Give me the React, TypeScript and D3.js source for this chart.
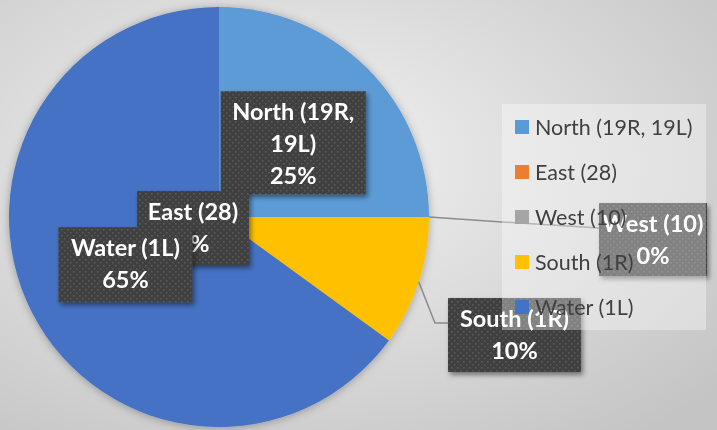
import React from "react";
import * as d3 from "d3";

const categories = ["North (19R, 19L)", "East (28)", "West (10)", "South (1R)", "Water (1L)"];
const values = [25, 0, 0, 10, 65];
const labelLines = [["North (19R,", "19L)", "25%"], ["East (28)", "0%"], ["West (10)", "0%"], ["South (1R)", "10%"], ["Water (1L)", "65%"]];
const colors = ["#5B9BD5", "#ED7D31", "#A5A5A5", "#FFC000", "#4472C4"];

const W = 717, H = 430;
const CX = 219, CY = 217, R = 210;

// label box layout (center positions, sizes)
const labelLayout = [
  { mode: "centroid", w: 145, h: 103 },
  { mode: "fixed", cx: 193, cy: 228, w: 112, h: 74 },
  { mode: "fixed", cx: 653, cy: 239.5, w: 108, h: 73 },
  { mode: "fixed", cx: 514.5, cy: 335, w: 133, h: 74 },
  { mode: "centroid", w: 134, h: 75 },
];

export default function App() {
  const pie = d3.pie<number>().value((d) => d).sort(null);
  const arcs = pie(values);
  const arcGen = d3.arc<d3.PieArcDatum<number>>().innerRadius(0).outerRadius(R);
  const labelArc = d3.arc<d3.PieArcDatum<number>>().innerRadius(210).outerRadius(0);

  const boxes = arcs.map((a, i) => {
    const L = labelLayout[i];
    let cx: number, cy: number;
    if (L.mode === "centroid") {
      const [x, y] = labelArc.centroid(a);
      cx = CX + x;
      cy = CY + y;
    } else {
      cx = L.cx as number;
      cy = L.cy as number;
    }
    return { x: cx - L.w / 2, y: cy - L.h / 2, w: L.w, h: L.h, cx };
  });

  const edge = (a: d3.PieArcDatum<number>) => {
    const m = (a.startAngle + a.endAngle) / 2;
    return [CX + Math.sin(m) * R, CY - Math.cos(m) * R];
  };
  const wEdge = edge(arcs[2]);
  const sEdge = edge(arcs[3]);
  const westLine = [wEdge, [502, 222], [boxes[2].x, 228]];
  const southLine = [sEdge, [435, 323], [boxes[3].x, 323]];
  const line = d3.line();

  const legendX = 502, legendY = 104, legendW = 204, legendH = 226;
  const legendScale = d3.scalePoint<string>().domain(categories).range([127, 307]);

  const drawOrder = [0, 1, 4, 2, 3];

  return (
    <svg width={W} height={H} style={{ position: "fixed", left: 0, top: 0 }} fontFamily="Lato, 'Open Sans', sans-serif">
      <defs>
        <radialGradient id="bg" cx="40%" cy="38%" r="80%">
          <stop offset="0%" stopColor="#f3f3f3" />
          <stop offset="100%" stopColor="#c4c4c4" />
        </radialGradient>
        <pattern id="dots" width="6" height="6" patternUnits="userSpaceOnUse">
          <rect width="6" height="6" fill="#404040" />
          <rect x="1" y="1" width="1.6" height="1.6" fill="#5c5c5c" />
          <rect x="4" y="4" width="1.6" height="1.6" fill="#555555" />
        </pattern>
        <filter id="pieShadow" x="-10%" y="-10%" width="120%" height="120%">
          <feDropShadow dx="0" dy="1" stdDeviation="4" floodColor="#000" floodOpacity="0.3" />
        </filter>
        <filter id="boxShadow" x="-20%" y="-20%" width="140%" height="140%">
          <feDropShadow dx="2" dy="3" stdDeviation="2.5" floodColor="#000" floodOpacity="0.45" />
        </filter>
      </defs>
      <rect width={W} height={H} fill="url(#bg)" />
      <g transform={`translate(${CX},${CY})`} filter="url(#pieShadow)">
        {arcs.map((a, i) => (
          <path key={i} d={arcGen(a) || ""} fill={colors[i]} />
        ))}
      </g>
      <path d={line(westLine as [number, number][]) || ""} fill="none" stroke="#8c8c8c" strokeWidth={1.5} />
      <path d={line(southLine as [number, number][]) || ""} fill="none" stroke="#8c8c8c" strokeWidth={1.5} />
      {drawOrder.map((i) => {
        const b = boxes[i];
        const lines = labelLines[i];
        return (
          <g key={i}>
            <rect x={b.x} y={b.y} width={b.w} height={b.h} fill="url(#dots)" filter="url(#boxShadow)" />
            {lines.map((t, j) => (
              <text key={j} x={b.cx} y={b.y + 29 + j * 32} textAnchor="middle" fill="#ffffff" fontWeight="bold" fontSize={23.5}>
                {t}
              </text>
            ))}
          </g>
        );
      })}
      <rect x={legendX} y={legendY} width={legendW} height={legendH} fill="#ffffff" fillOpacity={0.35} />
      {categories.map((c, i) => (
        <g key={c} transform={`translate(${legendX + 13},${legendScale(c)})`}>
          <rect x={0} y={-7} width={14} height={14} fill={colors[i]} />
          <text x={20} y={0} dy="0.35em" fontSize={21.5} fill="#404040">
            {c}
          </text>
        </g>
      ))}
    </svg>
  );
}
